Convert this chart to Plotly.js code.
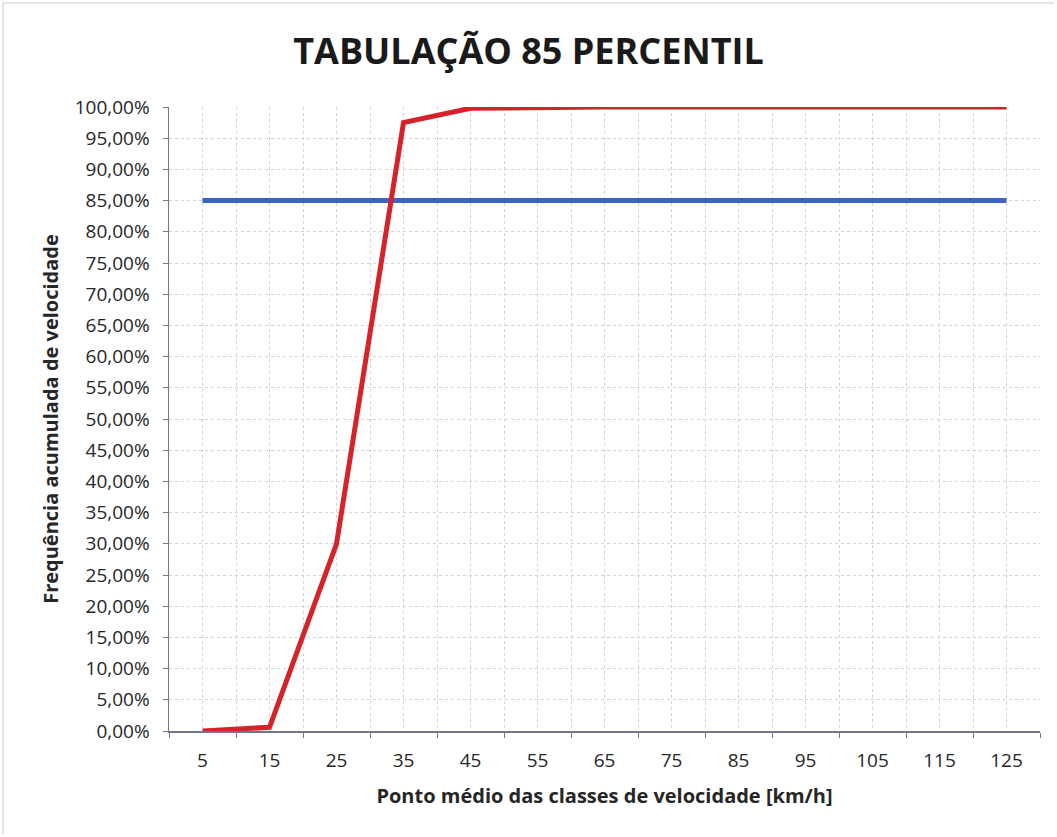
<!DOCTYPE html>
<html>
<head>
<meta charset="utf-8">
<script src="https://cdn.plot.ly/plotly-3.0.1.min.js"></script>
<style>
  html, body { margin: 0; padding: 0; background: #ffffff; }
  #chart { width: 1057px; height: 837px; }
</style>
</head>
<body>
<div id="chart"></div>
<script>
// Category axis: midpoint of each speed class (km/h)
var speedClasses = [5, 15, 25, 35, 45, 55, 65, 75, 85, 95, 105, 115, 125];
// Cumulative speed frequency (fraction)
var cumulativeFrequency = [0.000, 0.006, 0.300, 0.975, 0.998, 1.000, 1.000, 1.000, 1.000, 1.000, 1.000, 1.000, 1.000];
// 85th percentile reference line
var percentile85 = [0.85, 0.85, 0.85, 0.85, 0.85, 0.85, 0.85, 0.85, 0.85, 0.85, 0.85, 0.85, 0.85];

var chartTitle = 'TABULAÇÃO 85 PERCENTIL';
var xTitle = 'Ponto médio das classes de velocidade [km/h]';
var yTitle = 'Frequência acumulada de velocidade';

var traces = [
  {
    x: speedClasses, y: percentile85, type: 'scatter', mode: 'lines',
    line: { color: '#3d63c6', width: 5 }, hoverinfo: 'skip', showlegend: false
  },
  {
    x: speedClasses, y: cumulativeFrequency, type: 'scatter', mode: 'lines',
    line: { color: '#d5222b', width: 5 }, hoverinfo: 'skip', showlegend: false
  }
];

var gridC = '#d2d2d8';
var axisC = '#75758a';
var fontFam = '"Open Sans", "DejaVu Sans", sans-serif';

var layout = {
  width: 1057, height: 837,
  paper_bgcolor: '#ffffff', plot_bgcolor: '#ffffff',
  separators: ',.',
  margin: { l: 169, r: 17, t: 107, b: 106 },
  font: { family: fontFam, color: '#262626' },
  title: {
    text: '<b>' + chartTitle + '</b>',
    font: { family: fontFam, size: 36, color: '#1a1a1a' },
    x: 0.5, xanchor: 'center', y: 0.938, yanchor: 'middle'
  },
  xaxis: {
    range: [0, 130], fixedrange: true,
    tickvals: speedClasses, ticktext: speedClasses.map(String),
    ticks: '', ticklabelstandoff: 12,
    tickfont: { size: 19, color: '#262626' },
    showgrid: true, gridcolor: gridC, gridwidth: 1, griddash: 'dot',
    minor: { dtick: 10, tick0: 0, ticks: 'outside', ticklen: 5, tickcolor: axisC,
             showgrid: true, gridcolor: gridC, gridwidth: 1, griddash: 'dot' },
    showline: true, linecolor: axisC, linewidth: 1.5,
    zeroline: false,
    title: { text: '<b>' + xTitle + '</b>', font: { size: 20, color: '#262626' }, standoff: 16 }
  },
  yaxis: {
    range: [0, 1], fixedrange: true,
    dtick: 0.05, tick0: 0, tickformat: '.2%',
    ticks: 'outside', ticklen: 5, tickcolor: axisC, ticklabelstandoff: 9,
    tickfont: { size: 19, color: '#262626' },
    showgrid: true, gridcolor: gridC, gridwidth: 1, griddash: 'dot',
    showline: true, linecolor: axisC, linewidth: 1.5,
    zeroline: false,
    title: { text: '<b>' + yTitle + '</b>', font: { size: 20, color: '#262626' }, standoff: 10 }
  },
  shapes: [
    { type: 'line', xref: 'paper', yref: 'paper',
      x0: (3 - 169) / 871, x1: (1054 - 169) / 871,
      y0: (730.7 - 3) / 623.7, y1: (730.7 - 3) / 623.7,
      line: { color: '#c8c8c8', width: 1 } },
    { type: 'line', xref: 'paper', yref: 'paper',
      x0: (3 - 169) / 871, x1: (3 - 169) / 871,
      y0: (730.7 - 3) / 623.7, y1: (730.7 - 834) / 623.7,
      line: { color: '#c8c8c8', width: 1 } }
  ]
};

Plotly.newPlot('chart', traces, layout, { displayModeBar: false, staticPlot: true });
</script>
</body>
</html>
